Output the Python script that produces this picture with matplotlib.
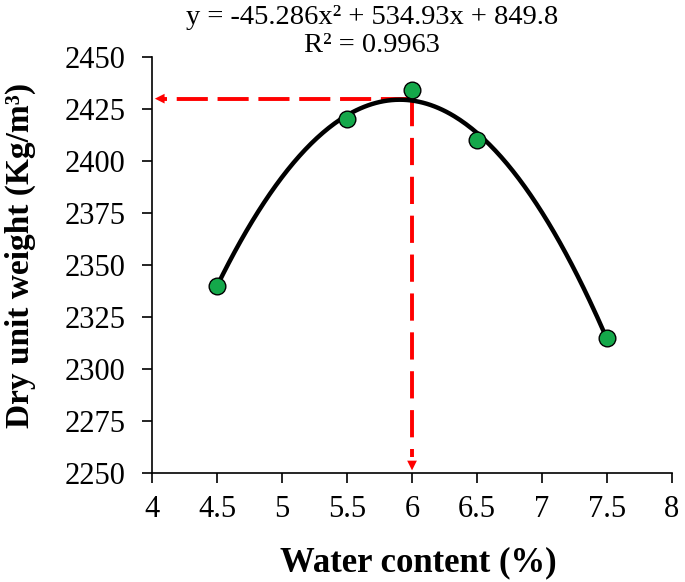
#!/usr/bin/env python3

import numpy as np
import matplotlib.pyplot as plt

plt.rcParams['font.family'] = ['Liberation Serif', 'DejaVu Serif']

water = [4.5, 5.5, 6.0, 6.5, 7.5]
density = [2340, 2420, 2434, 2410, 2315]
coef = [-45.286, 534.93, 849.8]
r2 = 0.9963
omc = 6.0
mdd = 2430

fig = plt.figure(figsize=(6.85, 5.82), dpi=100)
ax = fig.add_axes([0.222, 0.187, 0.759, 0.715])

xf = np.linspace(min(water), max(water), 200)
ax.plot(xf, np.polyval(coef, xf), color='black', lw=3.2, zorder=3)
ax.plot(water, density, 'o', ms=12, mfc='#14a84a', mec='black', mew=1, zorder=4)

# red dashed guides with arrow heads
ax.plot([omc, 4.06], [mdd, mdd], color='red', lw=2.8, dashes=(8, 2.5), zorder=2)
ax.plot([omc, omc], [mdd, 2258], color='red', lw=2.8, dashes=(7, 3), zorder=2)
ax.annotate('', xy=(4.0, mdd), xytext=(4.1, mdd),
            arrowprops=dict(arrowstyle='-|>,head_length=0.7,head_width=0.35', color='red', lw=0))
ax.annotate('', xy=(omc, 2250), xytext=(omc, 2262),
            arrowprops=dict(arrowstyle='-|>,head_length=0.7,head_width=0.35', color='red', lw=0))

ax.set_xlim(4, 8)
ax.set_ylim(2250, 2450)
ax.set_xticks(np.arange(4, 8.01, 0.5))
ax.set_xticklabels(['4', '4.5', '5', '5.5', '6', '6.5', '7', '7.5', '8'])
ax.set_yticks(np.arange(2250, 2451, 25))
ax.tick_params(labelsize=22, direction='out', length=7, width=1.2)
ax.tick_params(axis='y', pad=12)
ax.tick_params(axis='x', pad=9)
ax.spines['top'].set_visible(False)
ax.spines['right'].set_visible(False)
ax.spines['left'].set_linewidth(1.2)
ax.spines['bottom'].set_linewidth(1.2)

fig.text(418 / 685, 1 - 563 / 582, 'Water content (%)', fontsize=25, fontweight='bold',
         ha='center', va='center')
fig.text(20 / 685, 1 - 255 / 582, 'Dry unit weight (Kg/m³)', fontsize=24, fontweight='bold',
         ha='center', va='center', rotation=90)

fig.text(372 / 685, 1 - 18 / 582, 'y = -45.286x² + 534.93x + 849.8',
         ha='center', va='center', fontsize=20.5)
fig.text(372 / 685, 1 - 46 / 582, 'R² = %.4f' % r2,
         ha='center', va='center', fontsize=20.5)

fig.savefig('out.png', dpi=100)
